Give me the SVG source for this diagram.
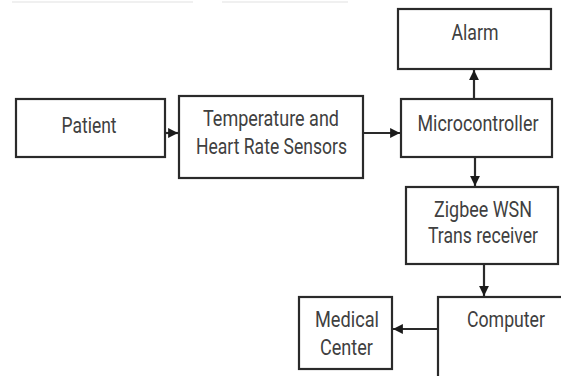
<svg xmlns="http://www.w3.org/2000/svg" width="561" height="376" viewBox="0 0 561 376">
<style>
.box{fill:#fff;stroke:#2a2a2a;stroke-width:2.2}
.lbl{font-family:Roboto,"Liberation Sans",sans-serif;font-size:22px;fill:#404040;text-anchor:middle}
.con{stroke:#2a2a2a;stroke-width:2.2;fill:none;marker-end:url(#ah)}
</style>
<defs>
<marker id="ah" viewBox="0 0 10 10" refX="10" refY="5" markerWidth="4.5" markerHeight="4.5" orient="auto" markerUnits="strokeWidth">
<path d="M0,0 L10,5 L0,10 z" fill="#1a1a1a"/>
</marker>
</defs>
<rect width="561" height="376" fill="#fff"/>
<g id="artifacts" stroke="#f0f0f0" stroke-width="2">
<line x1="12" y1="2" x2="193" y2="2"/>
<line x1="222" y1="2" x2="348" y2="2"/>
</g>
<g id="patient">
<rect class="box" x="16" y="99" width="149" height="58"/>
<text class="lbl" x="89" y="133" textLength="55" lengthAdjust="spacingAndGlyphs">Patient</text>
</g>
<g id="sensors">
<rect class="box" x="179" y="96" width="184" height="82"/>
<text class="lbl" x="271" y="126" textLength="136" lengthAdjust="spacingAndGlyphs">Temperature and</text>
<text class="lbl" x="271.5" y="154" textLength="151" lengthAdjust="spacingAndGlyphs">Heart Rate Sensors</text>
</g>
<g id="micro">
<rect class="box" x="401" y="99" width="151" height="58"/>
<text class="lbl" x="478" y="131" textLength="121" lengthAdjust="spacingAndGlyphs">Microcontroller</text>
</g>
<g id="alarm">
<rect class="box" x="398" y="9" width="153" height="60"/>
<text class="lbl" x="475" y="40" textLength="47" lengthAdjust="spacingAndGlyphs">Alarm</text>
</g>
<g id="zigbee">
<rect class="box" x="406" y="187" width="152" height="77"/>
<text class="lbl" x="483" y="217" textLength="98" lengthAdjust="spacingAndGlyphs">Zigbee WSN</text>
<text class="lbl" x="483" y="243" textLength="110" lengthAdjust="spacingAndGlyphs">Trans receiver</text>
</g>
<g id="computer">
<rect class="box" x="438" y="297" width="140" height="90"/>
<text class="lbl" x="506" y="327" textLength="78" lengthAdjust="spacingAndGlyphs">Computer</text>
</g>
<g id="medical">
<rect class="box" x="299" y="297" width="93" height="72"/>
<text class="lbl" x="347" y="327" textLength="64" lengthAdjust="spacingAndGlyphs">Medical</text>
<text class="lbl" x="346.5" y="355" textLength="53" lengthAdjust="spacingAndGlyphs">Center</text>
</g>
<g id="connectors">
<line class="con" x1="165" y1="133" x2="178" y2="133"/>
<line class="con" x1="363" y1="133" x2="400" y2="133"/>
<line class="con" x1="474" y1="99" x2="474" y2="70"/>
<line class="con" x1="475" y1="157" x2="475" y2="186"/>
<line class="con" x1="484" y1="264" x2="484" y2="296"/>
<line class="con" x1="438" y1="329" x2="393" y2="329"/>
</g>
</svg>
